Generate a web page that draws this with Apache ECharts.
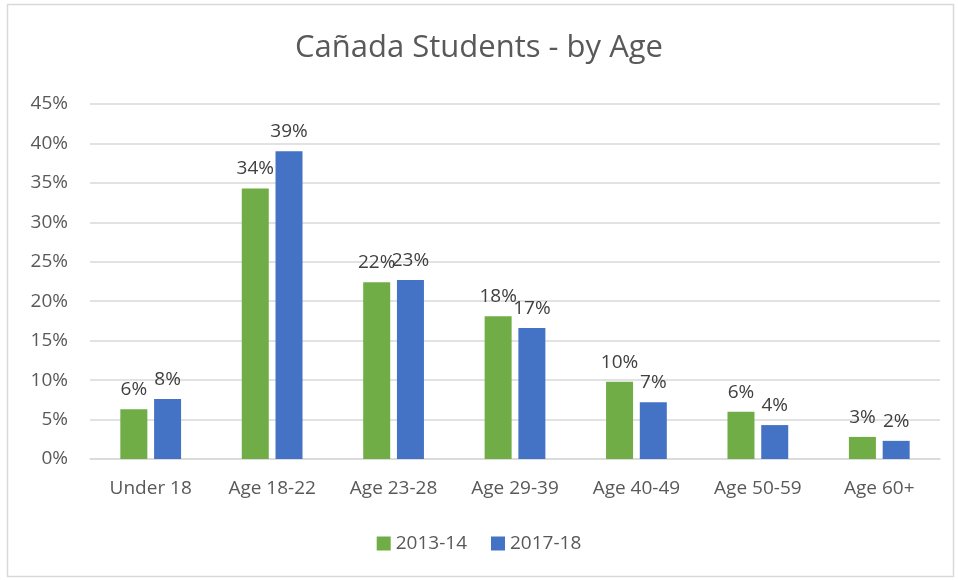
<!DOCTYPE html>
<html>
<head>
<meta charset="utf-8">
<script src="https://cdn.jsdelivr.net/npm/echarts@6/dist/echarts.min.js"></script>
<style>
  html, body { margin: 0; padding: 0; background: #fff; }
  #chart { width: 958px; height: 580px; }
</style>
</head>
<body>
<div id="chart"></div>
<script>
var categories = ["Under 18", "Age 18-22", "Age 23-28", "Age 29-39", "Age 40-49", "Age 50-59", "Age 60+"];
var y2013 = [6.3, 34.3, 22.4, 18.1, 9.8, 6.0, 2.8];
var y2017 = [7.6, 39.0, 22.7, 16.6, 7.2, 4.3, 2.3];

var myChart = echarts.init(document.getElementById("chart"));
var font = "'Open Sans', 'Noto Sans', sans-serif";

function pct(p) {
  return Math.round(p.value) + "%";
}

myChart.setOption({
  backgroundColor: "#fff",
  textStyle: { fontFamily: font },
  color: ["#70AD47", "#4472C4"],
  graphic: [{
    type: "rect",
    shape: { x: 7.5, y: 4.5, width: 946, height: 572 },
    style: { fill: "none", stroke: "#d9d9d9", lineWidth: 1.5 },
    silent: true
  }],
  title: {
    text: "Cañada Students - by Age",
    left: "center",
    top: 28,
    textStyle: { fontFamily: font, fontSize: 31, fontWeight: "normal", color: "#595959" }
  },
  legend: {
    bottom: 22,
    left: "center",
    itemWidth: 14,
    itemHeight: 14,
    itemGap: 24,
    icon: "rect",
    textStyle: { fontFamily: font, fontSize: 19, color: "#595959" },
    data: ["2013-14", "2017-18"]
  },
  grid: { left: 90, right: 18, top: 104, bottom: 121, containLabel: false },
  xAxis: {
    type: "category",
    data: categories,
    axisTick: { show: false },
    axisLine: { lineStyle: { color: "#d9d9d9", width: 1.5 } },
    axisLabel: { fontFamily: font, fontSize: 19, color: "#595959", margin: 20 }
  },
  yAxis: {
    type: "value",
    min: 0,
    max: 45,
    interval: 5,
    axisLabel: { fontFamily: font, fontSize: 19, color: "#595959", formatter: "{value}%", margin: 22 },
    splitLine: { lineStyle: { color: "#d9d9d9", width: 1.5 } },
    axisLine: { show: false },
    axisTick: { show: false }
  },
  series: [
    {
      name: "2013-14",
      type: "bar",
      data: y2013,
      barWidth: 27,
      barGap: "25%",
      label: { show: true, position: "top", formatter: pct, fontFamily: font, fontSize: 19, color: "#404040", distance: 10 }
    },
    {
      name: "2017-18",
      type: "bar",
      data: y2017,
      barWidth: 27,
      label: { show: true, position: "top", formatter: pct, fontFamily: font, fontSize: 19, color: "#404040", distance: 10 }
    }
  ]
});
</script>
</body>
</html>
